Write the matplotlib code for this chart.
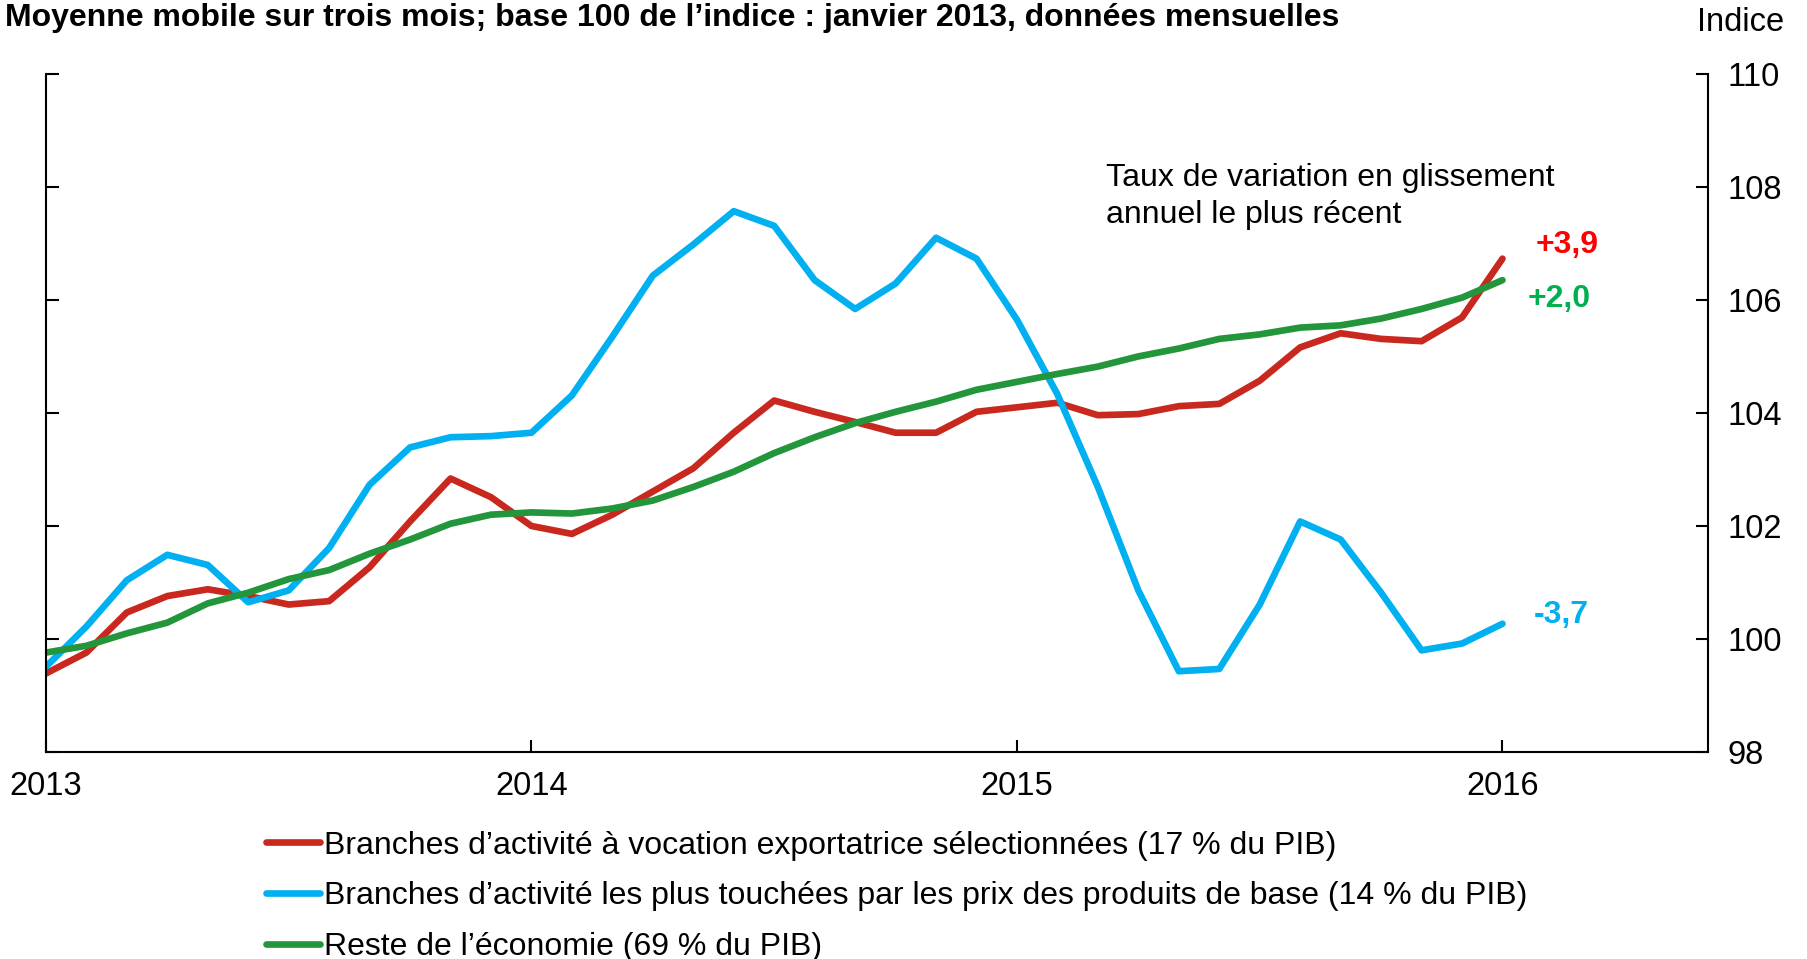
import numpy as np
import matplotlib
matplotlib.use('Agg')
import matplotlib.pyplot as plt

plt.rcParams['font.family'] = ['Liberation Sans', 'DejaVu Sans']

# monthly index, Jan 2013 .. Jan 2016 (3-month moving average)
months = np.arange(37)
exportatrices = [99.39, 99.76, 100.47, 100.76, 100.88, 100.76, 100.61, 100.67, 101.27, 102.08,
                 102.84, 102.51, 102.00, 101.86, 102.20, 102.61, 103.02, 103.65, 104.22, 104.02,
                 103.84, 103.65, 103.65, 104.02, 104.10, 104.18, 103.96, 103.98, 104.12, 104.16,
                 104.57, 105.16, 105.41, 105.31, 105.27, 105.69, 106.73]
produits_base = [99.51, 100.22, 101.04, 101.49, 101.31, 100.65, 100.86, 101.61, 102.73, 103.39,
                 103.57, 103.59, 103.65, 104.31, 105.35, 106.43, 106.98, 107.57, 107.31, 106.35,
                 105.84, 106.29, 107.10, 106.73, 105.65, 104.33, 102.69, 100.86, 99.43, 99.47,
                 100.61, 102.08, 101.76, 100.82, 99.80, 99.92, 100.27]
reste = [99.76, 99.88, 100.10, 100.29, 100.63, 100.82, 101.06, 101.22, 101.51, 101.76,
         102.04, 102.20, 102.24, 102.22, 102.31, 102.45, 102.69, 102.96, 103.29, 103.57,
         103.82, 104.02, 104.20, 104.41, 104.55, 104.69, 104.82, 105.00, 105.14, 105.31,
         105.39, 105.51, 105.55, 105.67, 105.84, 106.04, 106.35]

year_ticks = [0, 12, 24, 36]
year_labels = ['2013', '2014', '2015', '2016']

labels = ['Branches d’activité à vocation exportatrice sélectionnées (17 % du PIB)',
          'Branches d’activité les plus touchées par les prix des produits de base (14 % du PIB)',
          'Reste de l’économie (69 % du PIB)']
last_change = ['+3,9', '-3,7', '+2,0']

line_colors = ['#C8281E', '#00B0F0', '#23963C']
text_colors = ['#FF0000', '#00B0F0', '#00B050']

fig = plt.figure(figsize=(18.08, 9.59), dpi=100)
ax = fig.add_axes([0.0254, 0.2158, 0.9193, 0.7072])

series = [exportatrices, produits_base, reste]
for s, lab, c in zip(series, labels, line_colors):
    ax.plot(months, s, color=c, lw=4.8, label=lab, solid_capstyle='round')

ax.set_xlim(0, 41.08)
ax.set_ylim(98, 110)
ax.set_xticks(year_ticks)
ax.set_xticklabels(year_labels)
ax.set_yticks(np.arange(98, 111, 2))

ax.spines['top'].set_visible(False)
for sp in ['left', 'right', 'bottom']:
    ax.spines[sp].set_linewidth(1.5)
ax.tick_params(axis='y', left=True, right=True, labelleft=False, labelright=True,
               direction='in', length=9, width=1.5, labelsize=23.5, pad=14)
ax.tick_params(axis='x', direction='in', length=9, width=1.5, labelsize=23.5, pad=14)

# last-value labels
ax.text(36.83, 106.98, last_change[0], color=text_colors[0], fontsize=23,
        fontweight='bold', va='center', ha='left')
ax.text(36.63, 106.02, last_change[2], color=text_colors[2], fontsize=23,
        fontweight='bold', va='center', ha='left')
ax.text(36.77, 100.42, last_change[1], color=text_colors[1], fontsize=23,
        fontweight='bold', va='center', ha='left')
ax.text(26.2, 108.42, 'Taux de variation en glissement\nannuel le plus récent',
        fontsize=23, va='top', ha='left', linespacing=1.32)

fig.text(0.003, 0.997, 'Moyenne mobile sur trois mois; base 100 de l’indice : janvier 2013, données mensuelles',
         fontsize=23, fontweight='bold', va='top', ha='left')
fig.text(0.987, 0.993, 'Indice', fontsize=23.5, va='top', ha='right')

leg = ax.legend(loc='upper left', bbox_to_anchor=(0.1245, -0.097), frameon=False,
                fontsize=23, handlelength=1.7, handletextpad=0.12, labelspacing=0.65,
                borderaxespad=0)

fig.savefig('out.png', dpi=100)
